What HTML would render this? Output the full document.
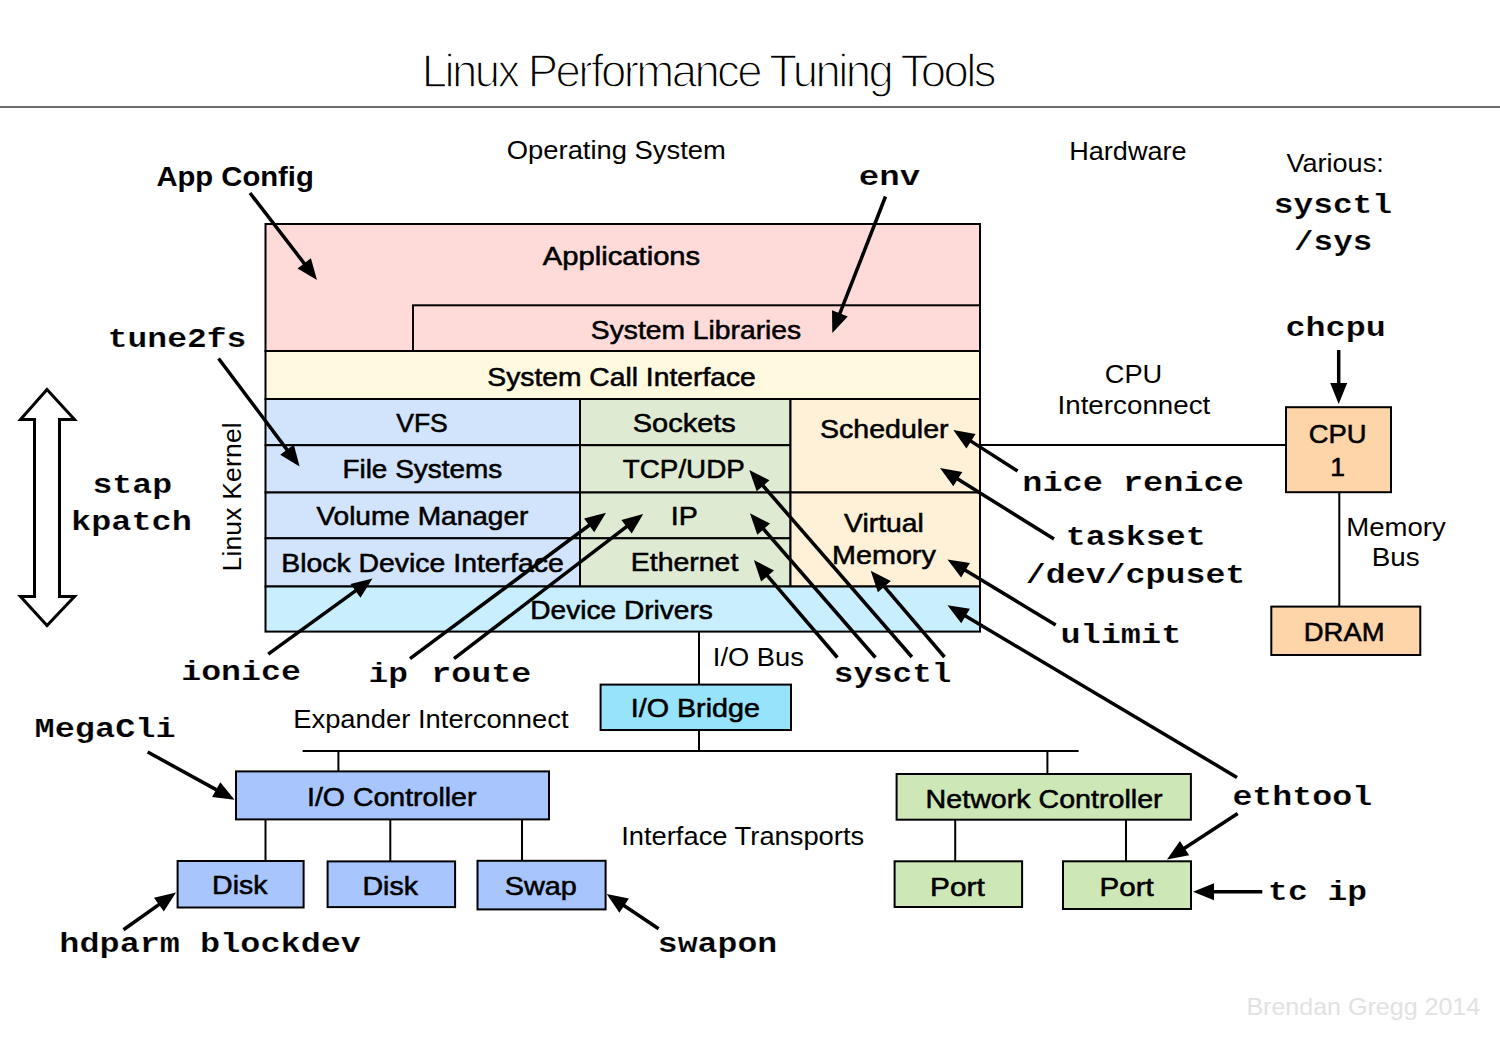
<!DOCTYPE html>
<html><head><meta charset="utf-8"><style>
html,body{margin:0;padding:0;background:#fff;width:1500px;height:1050px;overflow:hidden}
svg{display:block}
text{font-family:"Liberation Sans",sans-serif;fill:#000}
.title{font-size:45.5px;stroke:#fff;stroke-width:1.4px}
.box{font-size:26.5px;stroke:#000;stroke-width:0.55px}
.lab{font-size:26px}
.bold{font-size:28.5px;font-weight:bold}
.mono{font-family:"Liberation Mono",monospace;font-weight:bold;font-size:27px;stroke:#fff;stroke-width:0.15px}
.foot{font-size:24px;fill:#e2e2e2}
</style></head><body>
<svg width="1500" height="1050" viewBox="0 0 1500 1050">
<text x="421.8" y="87.0" class="title" textLength="574.7" lengthAdjust="spacing">Linux Performance Tuning Tools</text>
<line x1="0" y1="107" x2="1500" y2="107" stroke="#3c3c3c" stroke-width="1.3"/>
<rect x="265.5" y="224" width="714.5" height="127.0" fill="#fedbd9" stroke="#000" stroke-width="2"/>
<rect x="413" y="305.3" width="567.0" height="45.7" fill="#fedbd9" stroke="#000" stroke-width="2"/>
<rect x="265.5" y="351" width="714.5" height="48.0" fill="#fffadf" stroke="#000" stroke-width="2"/>
<rect x="265.5" y="399" width="314.5" height="46.2" fill="#d2e3fc" stroke="#000" stroke-width="2"/>
<rect x="580" y="399" width="210.5" height="46.2" fill="#dfead2" stroke="#000" stroke-width="2"/>
<rect x="265.5" y="445.2" width="314.5" height="47.3" fill="#d2e3fc" stroke="#000" stroke-width="2"/>
<rect x="580" y="445.2" width="210.5" height="47.3" fill="#dfead2" stroke="#000" stroke-width="2"/>
<rect x="265.5" y="492.5" width="314.5" height="45.8" fill="#d2e3fc" stroke="#000" stroke-width="2"/>
<rect x="580" y="492.5" width="210.5" height="45.8" fill="#dfead2" stroke="#000" stroke-width="2"/>
<rect x="265.5" y="538.3" width="314.5" height="48.2" fill="#d2e3fc" stroke="#000" stroke-width="2"/>
<rect x="580" y="538.3" width="210.5" height="48.2" fill="#dfead2" stroke="#000" stroke-width="2"/>
<rect x="790.5" y="399" width="189.5" height="93.5" fill="#fff1d7" stroke="#000" stroke-width="2"/>
<rect x="790.5" y="492.5" width="189.5" height="94.0" fill="#fff1d7" stroke="#000" stroke-width="2"/>
<rect x="265.5" y="586.5" width="714.5" height="45.1" fill="#c9eefe" stroke="#000" stroke-width="2"/>
<text x="542.8" y="265.0" class="box" textLength="157.4" lengthAdjust="spacingAndGlyphs">Applications</text>
<text x="590.8" y="338.6" class="box" textLength="210.4" lengthAdjust="spacingAndGlyphs">System Libraries</text>
<text x="487.3" y="385.6" class="box" textLength="268.5" lengthAdjust="spacingAndGlyphs">System Call Interface</text>
<text x="396.2" y="432.2" class="box" textLength="51.6" lengthAdjust="spacingAndGlyphs">VFS</text>
<text x="632.8" y="432.1" class="box" textLength="103.0" lengthAdjust="spacingAndGlyphs">Sockets</text>
<text x="820.1" y="437.9" class="box" textLength="128.4" lengthAdjust="spacingAndGlyphs">Scheduler</text>
<text x="342.4" y="478.2" class="box" textLength="159.8" lengthAdjust="spacingAndGlyphs">File Systems</text>
<text x="622.8" y="477.9" class="box" textLength="122.0" lengthAdjust="spacingAndGlyphs">TCP/UDP</text>
<text x="316.4" y="524.6" class="box" textLength="212.0" lengthAdjust="spacingAndGlyphs">Volume Manager</text>
<text x="670.8" y="524.6" class="box" textLength="27.0" lengthAdjust="spacingAndGlyphs">IP</text>
<text x="281.2" y="571.6" class="box" textLength="282.6" lengthAdjust="spacingAndGlyphs">Block Device Interface</text>
<text x="630.8" y="571.3" class="box" textLength="107.5" lengthAdjust="spacingAndGlyphs">Ethernet</text>
<text x="844.1" y="531.8" class="box" textLength="79.7" lengthAdjust="spacingAndGlyphs">Virtual</text>
<text x="832.1" y="563.8" class="box" textLength="103.7" lengthAdjust="spacingAndGlyphs">Memory</text>
<text x="530.3" y="618.6" class="box" textLength="182.5" lengthAdjust="spacingAndGlyphs">Device Drivers</text>
<text x="0" y="0" class="lab" style="font-size:26.5px" transform="translate(240.7,571.5) rotate(-90)" textLength="149.2" lengthAdjust="spacing">Linux Kernel</text>
<text x="506.8" y="159.0" class="lab" textLength="219.0" lengthAdjust="spacingAndGlyphs">Operating System</text>
<text x="1069.2" y="159.6" class="lab" textLength="117.5" lengthAdjust="spacingAndGlyphs">Hardware</text>
<text x="1286.4" y="172.3" class="lab" textLength="97.3" lengthAdjust="spacingAndGlyphs">Various:</text>
<text x="1104.8" y="382.7" class="lab" textLength="57.5" lengthAdjust="spacingAndGlyphs">CPU</text>
<text x="1057.5" y="414.0" class="lab" textLength="152.8" lengthAdjust="spacingAndGlyphs">Interconnect</text>
<text x="1346.3" y="536.2" class="lab" textLength="99.5" lengthAdjust="spacingAndGlyphs">Memory</text>
<text x="1371.8" y="565.6" class="lab" textLength="48.0" lengthAdjust="spacingAndGlyphs">Bus</text>
<text x="712.8" y="666.0" class="lab" textLength="91.0" lengthAdjust="spacingAndGlyphs">I/O Bus</text>
<text x="293.2" y="727.7" class="lab" textLength="275.4" lengthAdjust="spacingAndGlyphs">Expander Interconnect</text>
<text x="621.2" y="844.8" class="lab" textLength="243.0" lengthAdjust="spacingAndGlyphs">Interface Transports</text>
<text x="1246.4" y="1014.7" class="foot" textLength="233.8" lengthAdjust="spacingAndGlyphs">Brendan Gregg 2014</text>
<line x1="980" y1="445" x2="1286" y2="445" stroke="#000" stroke-width="2"/>
<rect x="1286" y="407.2" width="105.0" height="85.0" fill="#fdd5a8" stroke="#000" stroke-width="2"/>
<text x="1308.7" y="442.6" class="box" textLength="57.8" lengthAdjust="spacingAndGlyphs">CPU</text>
<text x="1337.5" y="475.5" class="box" text-anchor="middle">1</text>
<line x1="1339.3" y1="492.2" x2="1339.3" y2="606.6" stroke="#000" stroke-width="2"/>
<rect x="1271.3" y="606.6" width="149.0" height="48.4" fill="#fdd5a8" stroke="#000" stroke-width="2"/>
<text x="1303.8" y="641.0" class="box" textLength="80.8" lengthAdjust="spacingAndGlyphs">DRAM</text>
<line x1="699" y1="631.6" x2="699" y2="684.6" stroke="#000" stroke-width="2"/>
<rect x="600.6" y="684.6" width="190.4" height="45.4" fill="#97e3fb" stroke="#000" stroke-width="2"/>
<text x="630.7" y="716.8" class="box" textLength="129.3" lengthAdjust="spacingAndGlyphs">I/O Bridge</text>
<line x1="699" y1="730" x2="699" y2="751" stroke="#000" stroke-width="2"/>
<line x1="302.6" y1="751" x2="1078.6" y2="751" stroke="#000" stroke-width="2"/>
<line x1="338.4" y1="751" x2="338.4" y2="771.4" stroke="#000" stroke-width="2"/>
<rect x="236" y="771.4" width="313.0" height="48.0" fill="#a8c6fd" stroke="#000" stroke-width="2"/>
<text x="307.0" y="806.0" class="box" textLength="169.4" lengthAdjust="spacingAndGlyphs">I/O Controller</text>
<line x1="265.5" y1="819.4" x2="265.5" y2="861" stroke="#000" stroke-width="2"/>
<line x1="390.3" y1="819.4" x2="390.3" y2="861" stroke="#000" stroke-width="2"/>
<line x1="522" y1="819.4" x2="522" y2="861" stroke="#000" stroke-width="2"/>
<rect x="177.6" y="861" width="126.0" height="46.5" fill="#a8c6fd" stroke="#000" stroke-width="2"/>
<text x="212.1" y="894.3" class="box" textLength="55.4" lengthAdjust="spacingAndGlyphs">Disk</text>
<rect x="327.6" y="861.4" width="127.5" height="45.7" fill="#a8c6fd" stroke="#000" stroke-width="2"/>
<text x="362.5" y="894.6" class="box" textLength="55.5" lengthAdjust="spacingAndGlyphs">Disk</text>
<rect x="477.5" y="860.8" width="128.1" height="48.6" fill="#a8c6fd" stroke="#000" stroke-width="2"/>
<text x="504.7" y="894.6" class="box" textLength="72.1" lengthAdjust="spacingAndGlyphs">Swap</text>
<line x1="1047.4" y1="751" x2="1047.4" y2="774" stroke="#000" stroke-width="2"/>
<rect x="896.6" y="774" width="294.3" height="45.7" fill="#cde7b6" stroke="#000" stroke-width="2"/>
<text x="925.6" y="807.5" class="box" textLength="237.0" lengthAdjust="spacingAndGlyphs">Network Controller</text>
<line x1="955.2" y1="819.7" x2="955.2" y2="861.3" stroke="#000" stroke-width="2"/>
<line x1="1126" y1="819.7" x2="1126" y2="861.3" stroke="#000" stroke-width="2"/>
<rect x="894.6" y="861.3" width="127.5" height="45.7" fill="#cde7b6" stroke="#000" stroke-width="2"/>
<text x="930.1" y="895.6" class="box" textLength="54.7" lengthAdjust="spacingAndGlyphs">Port</text>
<rect x="1063" y="861.3" width="128.0" height="47.7" fill="#cde7b6" stroke="#000" stroke-width="2"/>
<text x="1099.6" y="895.6" class="box" textLength="54.2" lengthAdjust="spacingAndGlyphs">Port</text>
<text x="156.4" y="186.0" class="bold" textLength="157.4" lengthAdjust="spacingAndGlyphs">App Config</text>
<text x="858.8" y="184.5" class="mono" textLength="61.4" lengthAdjust="spacingAndGlyphs">env</text>
<text x="1273.7" y="212.9" class="mono" textLength="118.4" lengthAdjust="spacingAndGlyphs">sysctl</text>
<text x="1294.1" y="249.6" class="mono" textLength="78.1" lengthAdjust="spacingAndGlyphs">/sys</text>
<text x="1285.5" y="336.0" class="mono" textLength="100.3" lengthAdjust="spacingAndGlyphs">chcpu</text>
<text x="107.7" y="347.0" class="mono" textLength="138.7" lengthAdjust="spacingAndGlyphs">tune2fs</text>
<text x="92.4" y="493.0" class="mono" textLength="79.7" lengthAdjust="spacingAndGlyphs">stap</text>
<text x="71.1" y="529.5" class="mono" textLength="120.7" lengthAdjust="spacingAndGlyphs">kpatch</text>
<text x="181.2" y="680.3" class="mono" textLength="119.8" lengthAdjust="spacingAndGlyphs">ionice</text>
<text x="368.6" y="681.8" class="mono" textLength="39.5" lengthAdjust="spacingAndGlyphs">ip</text>
<text x="431.3" y="681.8" class="mono" textLength="100.0" lengthAdjust="spacingAndGlyphs">route</text>
<text x="833.8" y="681.7" class="mono" textLength="117.6" lengthAdjust="spacingAndGlyphs">sysctl</text>
<text x="1022.3" y="490.8" class="mono" textLength="221.5" lengthAdjust="spacingAndGlyphs">nice renice</text>
<text x="1065.7" y="545.0" class="mono" textLength="140.0" lengthAdjust="spacingAndGlyphs">taskset</text>
<text x="1025.8" y="583.2" class="mono" textLength="219.5" lengthAdjust="spacingAndGlyphs">/dev/cpuset</text>
<text x="1060.4" y="643.3" class="mono" textLength="120.9" lengthAdjust="spacingAndGlyphs">ulimit</text>
<text x="34.5" y="737.0" class="mono" textLength="141.1" lengthAdjust="spacingAndGlyphs">MegaCli</text>
<text x="1232.4" y="804.8" class="mono" textLength="139.9" lengthAdjust="spacingAndGlyphs">ethtool</text>
<text x="1268.1" y="900.0" class="mono" textLength="99.0" lengthAdjust="spacingAndGlyphs">tc ip</text>
<text x="59.3" y="952.0" class="mono" textLength="301.7" lengthAdjust="spacingAndGlyphs">hdparm blockdev</text>
<text x="657.8" y="952.3" class="mono" textLength="119.4" lengthAdjust="spacingAndGlyphs">swapon</text>
<line x1="250" y1="193" x2="306.0" y2="265.7" stroke="#000" stroke-width="3.5"/>
<polygon points="317,280 297.5,268.5 310.9,258.2" fill="#000"/>
<line x1="885.5" y1="196.5" x2="838.8" y2="316.2" stroke="#000" stroke-width="3.5"/>
<polygon points="832.3,333 832.0,310.3 847.8,316.5" fill="#000"/>
<line x1="218.6" y1="358.5" x2="288.8" y2="452.1" stroke="#000" stroke-width="3.5"/>
<polygon points="299.6,466.5 280.2,454.8 293.8,444.6" fill="#000"/>
<line x1="268.2" y1="654.2" x2="357.9" y2="589.1" stroke="#000" stroke-width="3.5"/>
<polygon points="372.5,578.5 360.5,597.7 350.5,584.0" fill="#000"/>
<line x1="410" y1="658.7" x2="591.6" y2="523.5" stroke="#000" stroke-width="3.5"/>
<polygon points="606,512.8 594.2,532.2 584.1,518.5" fill="#000"/>
<line x1="454" y1="658.7" x2="628.9" y2="524.8" stroke="#000" stroke-width="3.5"/>
<polygon points="643.2,513.9 631.7,533.4 621.4,519.9" fill="#000"/>
<line x1="837.4" y1="657.5" x2="765.6" y2="573.7" stroke="#000" stroke-width="3.5"/>
<polygon points="753.9,560 774.0,570.4 761.1,581.5" fill="#000"/>
<line x1="875.4" y1="657.5" x2="761.7" y2="526.9" stroke="#000" stroke-width="3.5"/>
<polygon points="749.9,513.3 770.1,523.6 757.3,534.7" fill="#000"/>
<line x1="911.9" y1="657" x2="761.1" y2="483.5" stroke="#000" stroke-width="3.5"/>
<polygon points="749.3,469.9 769.5,480.2 756.7,491.3" fill="#000"/>
<line x1="944.5" y1="657" x2="882.4" y2="584.4" stroke="#000" stroke-width="3.5"/>
<polygon points="870.7,570.7 890.8,581.1 877.9,592.2" fill="#000"/>
<line x1="1017.6" y1="471" x2="968.5" y2="439.6" stroke="#000" stroke-width="3.5"/>
<polygon points="953.3,429.9 975.6,434.0 966.4,448.4" fill="#000"/>
<line x1="1054" y1="539" x2="955.3" y2="477.5" stroke="#000" stroke-width="3.5"/>
<polygon points="940,468 962.3,471.9 953.3,486.3" fill="#000"/>
<line x1="1055.7" y1="625" x2="962.9" y2="568.8" stroke="#000" stroke-width="3.5"/>
<polygon points="947.5,559.5 969.9,563.1 961.1,577.6" fill="#000"/>
<line x1="1237" y1="777.4" x2="963.0" y2="614.5" stroke="#000" stroke-width="3.5"/>
<polygon points="947.5,605.3 969.9,608.7 961.2,623.3" fill="#000"/>
<line x1="1237.7" y1="813.5" x2="1182.1" y2="849.8" stroke="#000" stroke-width="3.5"/>
<polygon points="1167,859.6 1179.9,841.0 1189.2,855.2" fill="#000"/>
<line x1="1262.3" y1="891.8" x2="1211.0" y2="891.8" stroke="#000" stroke-width="3.5"/>
<polygon points="1193,891.8 1214.0,883.3 1214.0,900.3" fill="#000"/>
<line x1="1338.7" y1="350" x2="1338.7" y2="386.0" stroke="#000" stroke-width="3.5"/>
<polygon points="1338.7,404 1330.2,383.0 1347.2,383.0" fill="#000"/>
<line x1="147.7" y1="752" x2="218.8" y2="791.1" stroke="#000" stroke-width="3.5"/>
<polygon points="234.6,799.8 212.1,797.1 220.3,782.2" fill="#000"/>
<line x1="123.5" y1="929.8" x2="161.3" y2="902.9" stroke="#000" stroke-width="3.5"/>
<polygon points="176,892.5 163.8,911.6 154.0,897.7" fill="#000"/>
<line x1="658.6" y1="928.8" x2="621.7" y2="904.0" stroke="#000" stroke-width="3.5"/>
<polygon points="606.7,894 628.9,898.6 619.4,912.8" fill="#000"/>
<polygon points="47,389.5 74.5,419.5 59.5,419.5 59.5,596.5 74.5,596.5 47,625.5 20.5,596.5 34.5,596.5 34.5,419.5 20.5,419.5" fill="#fff" stroke="#000" stroke-width="3" stroke-linejoin="miter"/>
</svg>
</body></html>
